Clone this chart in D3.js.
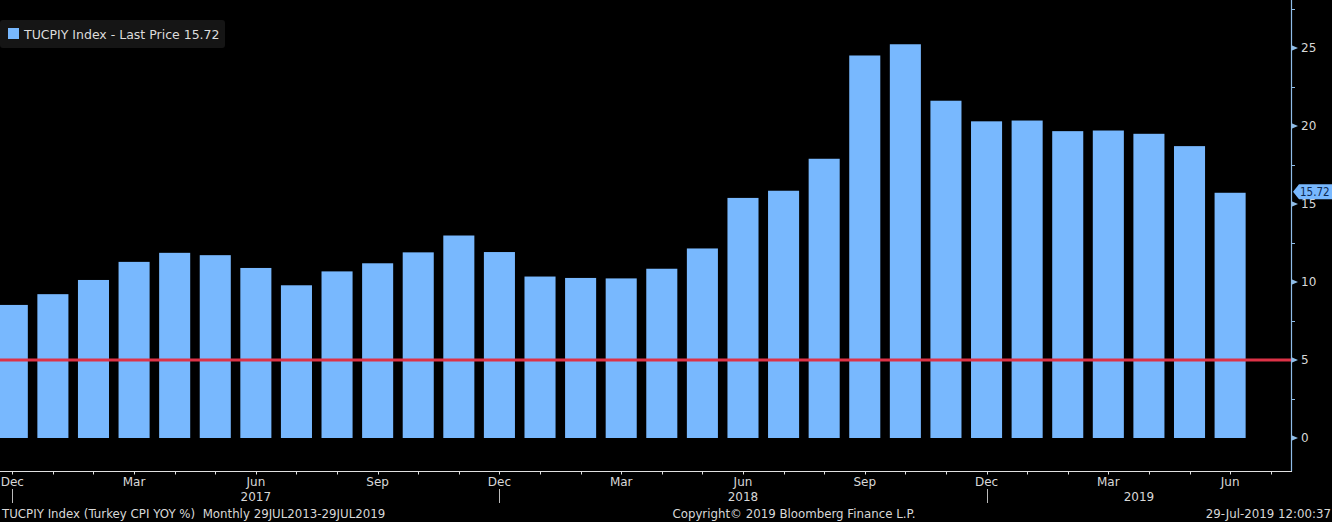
<!DOCTYPE html>
<html>
<head>
<meta charset="utf-8">
<script src="https://cdn.jsdelivr.net/npm/d3@7"></script>
<style>
html,body{margin:0;padding:0;background:#000;}
svg{display:block;}
text{font-family:"DejaVu Sans",sans-serif;}
</style>
</head>
<body>
<svg id="chart" width="1332" height="522"></svg>
<script>
// ---- data ----
const months = ["2016-12","2017-01","2017-02","2017-03","2017-04","2017-05","2017-06","2017-07","2017-08","2017-09","2017-10","2017-11","2017-12",
  "2018-01","2018-02","2018-03","2018-04","2018-05","2018-06","2018-07","2018-08","2018-09","2018-10","2018-11","2018-12",
  "2019-01","2019-02","2019-03","2019-04","2019-05","2019-06","2019-07"];
const cpiValues = [8.53,9.22,10.13,11.29,11.87,11.72,10.90,9.79,10.68,11.20,11.90,12.98,11.92,
  10.35,10.26,10.23,10.85,12.15,15.39,15.85,17.90,24.52,25.24,21.62,20.30,
  20.35,19.67,19.71,19.50,18.71,15.72];
const targetValue = 5;
const yTicks = [0,5,10,15,20,25];
const yMinorTicks = [2.5,7.5,12.5,17.5,22.5,27.5];
const monthLabelNames = {"03":"Mar","06":"Jun","09":"Sep","12":"Dec"};
const yearLabels = [{year:"2017", at:"2017-06"},{year:"2018", at:"2018-06"},{year:"2019", at:"2019-04"}];
const legendText = "TUCPIY Index - Last Price 15.72";
const lastLabel = "15.72";
const footerLeft = "TUCPIY Index (Turkey CPI YOY %)  Monthly 29JUL2013-29JUL2019";
const footerMid = "Copyright\u00A9 2019 Bloomberg Finance L.P.";
const footerRight = "29-Jul-2019 12:00:37";

// ---- layout ----
const W = 1332, H = 522;
const axisX = 1291, axisY = 471;
const barColor = "#78b8fe";
const svg = d3.select("#chart");
svg.append("rect").attr("width",W).attr("height",H).attr("fill","#000");

const x = d3.scaleBand().domain(months).range([-8, axisX]).paddingInner(0.235).paddingOuter(0.1175);
const cx = m => x(m) + x.bandwidth()/2;
const y = d3.scaleLinear().domain([0,25]).range([438,48]);

const plot = svg.append("g");
plot.append("defs").append("clipPath").attr("id","clip")
  .append("rect").attr("x",0).attr("y",0).attr("width",axisX).attr("height",axisY);

// bars
plot.append("g").attr("clip-path","url(#clip)")
  .selectAll("rect").data(cpiValues).join("rect")
  .attr("x",(d,i)=>x(months[i]))
  .attr("width",x.bandwidth())
  .attr("y",d=>y(d))
  .attr("height",d=>y(0)-y(d))
  .attr("fill",barColor);

// target line
plot.append("line")
  .attr("x1",0).attr("x2",axisX)
  .attr("y1",y(targetValue)).attr("y2",y(targetValue))
  .attr("stroke","#dd3247").attr("stroke-width",3);

// right axis
const axisColor = "#8fbde8";
svg.append("line").attr("x1",axisX+0.5).attr("x2",axisX+0.5).attr("y1",0).attr("y2",axisY+0.5)
  .attr("stroke",axisColor).attr("stroke-width",1.2);
svg.append("g").selectAll("line").data(yMinorTicks).join("line")
  .attr("x1",axisX).attr("x2",axisX+4)
  .attr("y1",d=>Math.round(y(d))+0.5).attr("y2",d=>Math.round(y(d))+0.5)
  .attr("stroke",axisColor).attr("stroke-width",1);
const yt = svg.append("g").selectAll("g").data(yTicks).join("g")
  .attr("transform",d=>`translate(${axisX},${y(d)})`);
yt.append("path").attr("d","M0,-3L7,0L0,3Z").attr("fill",axisColor);
yt.append("text").attr("x",10).attr("dy","0.35em")
  .attr("fill","#d8d8d8").attr("font-size",12).text(d=>d);

// last price label
const lp = svg.append("g").attr("transform",`translate(${axisX+2},${y(cpiValues[cpiValues.length-1])-1})`);
lp.append("path").attr("d","M0,0L6,-7.5L39,-7.5L39,7.5L6,7.5Z").attr("fill",barColor);
lp.append("text").attr("x",7).attr("dy","0.35em").attr("fill","#0c2a55")
  .attr("font-size",11.5).style("font-family","'DejaVu Sans Condensed','DejaVu Sans',sans-serif").text(lastLabel);

// bottom axis
svg.append("line").attr("x1",0).attr("x2",axisX+1).attr("y1",axisY+0.5).attr("y2",axisY+0.5)
  .attr("stroke","#e0e0e0").attr("stroke-width",1.2);
svg.append("g").selectAll("line").data(months).join("line")
  .attr("x1",d=>Math.round(cx(d))+0.5).attr("x2",d=>Math.round(cx(d))+0.5)
  .attr("y1",axisY).attr("y2",axisY+3.5)
  .attr("stroke","#e0e0e0").attr("stroke-width",1);
svg.append("g").selectAll("text").data(months.filter(m=>monthLabelNames[m.slice(5)] && m!=="2019-07"))
  .join("text").attr("x",d=>cx(d)).attr("y",486).attr("text-anchor","middle")
  .attr("fill","#d8d8d8").attr("font-size",12).text(d=>monthLabelNames[d.slice(5)]);
// year separators
svg.append("g").selectAll("line").data(months.filter(m=>m.endsWith("-12"))).join("line")
  .attr("x1",d=>Math.round(cx(d))+0.5).attr("x2",d=>Math.round(cx(d))+0.5)
  .attr("y1",489).attr("y2",503).attr("stroke","#bbb").attr("stroke-width",1);
svg.append("g").selectAll("text").data(yearLabels).join("text")
  .attr("x",d=> d.year==="2019" ? cx(d.at)-10 : cx(d.at)).attr("y",501).attr("text-anchor","middle")
  .attr("fill","#d8d8d8").attr("font-size",12).text(d=>d.year);

// legend
const lg = svg.append("g");
lg.append("rect").attr("x",0).attr("y",20).attr("width",225).attr("height",28).attr("rx",3).attr("fill","#151515");
lg.append("rect").attr("x",8).attr("y",28).attr("width",11).attr("height",11).attr("fill",barColor);
lg.append("text").attr("x",24).attr("y",39).attr("fill","#dcdcdc").attr("font-size",12.5).text(legendText);

// footer
const ft = svg.append("g").attr("fill","#d8d8d8").attr("font-size",11.8);
ft.append("text").attr("x",2).attr("y",518).attr("xml:space","preserve").text(footerLeft);
ft.append("text").attr("x",794).attr("y",518).attr("text-anchor","middle").text(footerMid);
ft.append("text").attr("x",1331).attr("y",518).attr("text-anchor","end").text(footerRight);
</script>
</body>
</html>
